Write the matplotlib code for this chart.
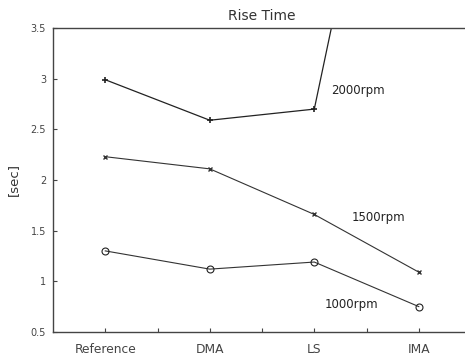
import matplotlib
matplotlib.use("Agg")
import matplotlib.pyplot as plt

methods = ["Reference", "DMA", "LS", "IMA"]
x_pos = [1, 2, 3, 4]
rt_2000 = [2.99, 2.59, 2.70, 7.6]
rt_1500 = [2.23, 2.11, 1.66, 1.09]
rt_1000 = [1.30, 1.12, 1.19, 0.75]
labels = ["2000rpm", "1500rpm", "1000rpm"]
label_pos = [(3.16, 2.88), (3.36, 1.63), (3.10, 0.77)]

plt.rcParams['font.family'] = ['DejaVu Sans']

fig = plt.figure(figsize=(4.65, 3.6), dpi=100)
ax = fig.add_axes([0.114, 0.078, 0.899, 0.844])

ax.plot(x_pos, rt_2000, color='#222222', lw=0.9, marker='+', ms=5, mew=1.2)
ax.plot(x_pos, rt_1500, color='#333333', lw=0.8, marker='x', ms=2.5, mew=1.0)
ax.plot(x_pos, rt_1000, color='#333333', lw=0.8, marker='o', ms=5,
        mfc='none', mec='#222222', mew=0.8)

for lab, (lx, ly) in zip(labels, label_pos):
    ax.text(lx, ly, lab, fontsize=8.5, va='center', ha='left', color='#222222')

ax.set_xlim(0.5, 4.5)
ax.set_ylim(0.5, 3.5)
ax.set_xticks([1, 1.5, 2, 2.5, 3, 3.5, 4])
ax.set_xticklabels(["Reference", "", "DMA", "", "LS", "", "IMA"])
ax.set_yticks([0.5, 1, 1.5, 2, 2.5, 3, 3.5])
ax.set_yticklabels(["0.5", "1", "1.5", "2", "2.5", "3", "3.5"])
ax.tick_params(direction='in', length=3, width=0.8, labelsize=7,
               colors='#444444', pad=5)
ax.tick_params(axis='x', labelsize=8.8, pad=8)
for s in ax.spines.values():
    s.set_color('#444444')
    s.set_linewidth(1.0)

ax.set_title("Rise Time", fontsize=10, color='#333333', pad=6)
ax.set_ylabel("[sec]", fontsize=9.5, color='#333333', labelpad=8)

fig.savefig("out.png", dpi=100)
